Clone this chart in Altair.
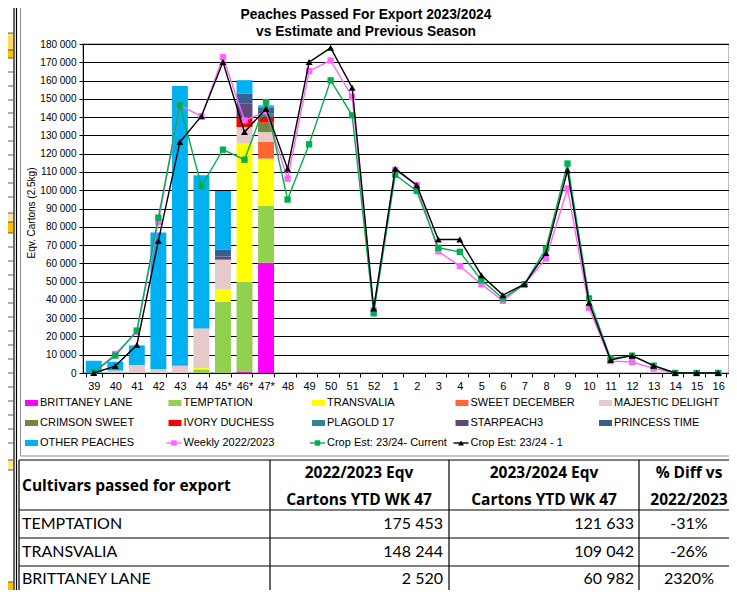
import altair as alt
import pandas as pd

# ---------------- data ----------------
weeks = ["39", "40", "41", "42", "43", "44", "45*", "46*", "47*", "48", "49", "50", "51", "52",
         "1", "2", "3", "4", "5", "6", "7", "8", "9", "10", "11", "12", "13", "14", "15", "16"]

cultivars = ["BRITTANEY LANE", "TEMPTATION", "TRANSVALIA", "SWEET DECEMBER", "MAJESTIC DELIGHT",
             "CRIMSON SWEET", "IVORY DUCHESS", "PLAGOLD 17", "STARPEACH3", "PRINCESS TIME", "OTHER PEACHES"]
cultivar_colors = ["#FF00FF", "#92D050", "#FFFF00", "#FF6633", "#E6C9C9",
                   "#6E8B3D", "#FF0000", "#31849B", "#5F497A", "#376092", "#00B0F0"]

bar_weeks = ["39", "40", "41", "42", "43", "44", "45*", "46*", "47*"]
brittaney_lane   = [0, 0, 0, 0, 0, 0, 0, 800, 60300]
temptation       = [0, 0, 0, 0, 0, 2000, 39000, 49100, 31100]
transvalia       = [0, 0, 0, 0, 0, 700, 7000, 75600, 25900]
sweet_december   = [0, 0, 0, 0, 0, 0, 0, 0, 9100]
majestic_delight = [0, 1300, 4400, 2000, 4000, 21700, 16000, 9100, 5400]
crimson_sweet    = [0, 0, 0, 0, 0, 0, 0, 0, 5200]
ivory_duchess    = [0, 0, 0, 0, 0, 0, 0, 5100, 3000]
plagold_17       = [0, 0, 0, 0, 0, 0, 0, 0, 2000]
starpeach3       = [0, 0, 0, 0, 0, 0, 1700, 7600, 1800]
princess_time    = [0, 0, 0, 0, 0, 0, 3900, 5500, 1500]
other_peaches    = [6700, 4900, 10700, 74900, 153000, 83800, 32000, 7400, 1100]
bar_series = [brittaney_lane, temptation, transvalia, sweet_december, majestic_delight,
              crimson_sweet, ivory_duchess, plagold_17, starpeach3, princess_time, other_peaches]

series_names = ["Weekly 2022/2023", "Crop Est: 23/24- Current", "Crop Est: 23/24 - 1"]
series_colors = ["#FF66FF", "#00B050", "#000000"]
series_shapes = ["square", "square", "triangle-up"]
weekly_2022 = [300, 10400, 22500, 82700, 146400, 140400, 172800, 138200, 143000, 106300, 165100,
               171000, 151000, 34400, 111000, 102800, 66600, 58500, 48600, 39500, 48600, 62700,
               100900, 35700, 6500, 6000, 2500, 0, 0, 0]
crop_est_current = [500, 9500, 23200, 85000, 146500, 102300, 122200, 116700, 148200, 94900, 125100,
                    160100, 141000, 32600, 108500, 99600, 68500, 66300, 50800, 40800, 48600, 68100,
                    114600, 40800, 8000, 9500, 4000, 0, 0, 0]
crop_est_prev = [0, 3800, 15300, 72300, 126400, 140500, 170100, 131800, 144600, 111800, 170100,
                 177900, 156100, 35300, 111800, 102700, 73000, 73000, 53500, 42600, 48600, 65700,
                 110900, 38400, 7100, 9500, 4000, 0, 0, 0]
line_series = [weekly_2022, crop_est_current, crop_est_prev]

title_lines = ["Peaches Passed For Export 2023/2024", "vs Estimate and Previous Season"]
y_title = "Eqv. Cartons (2.5kg)"
y_ticks = list(range(0, 180001, 10000))

table_header = ["Cultivars passed for export", "2022/2023 Eqv", "Cartons YTD WK 47",
                "2023/2024 Eqv", "Cartons YTD WK 47", "% Diff vs", "2022/2023"]
table_cultivars = ["TEMPTATION", "TRANSVALIA", "BRITTANEY LANE"]
table_ytd_prev = ["175 453", "148 244", "2 520"]
table_ytd_curr = ["121 633", "109 042", "60 982"]
table_pct = ["-31%", "-26%", "2320%"]

# ---------------- layout helpers (page px -> view px) ----------------
OX, OY = 83, 44
PW, PH = 646, 329
def vx(X):
    return X - OX
def vy(Y):
    return Y - OY

FONT = "Liberation Sans"
TFONT = "Lato"
HFONT = "Open Sans"

# ---------------- main plot ----------------
bar_rows = []
for ci, (name, vals) in enumerate(zip(cultivars, bar_series)):
    for w, v in zip(bar_weeks, vals):
        bar_rows.append({"week": w, "cultivar": name, "idx": ci, "value": v})
bar_df = pd.DataFrame(bar_rows)

xscale = alt.Scale(type="band", domain=weeks, paddingInner=0.26, paddingOuter=0.13)
yscale = alt.Scale(domain=[0, 180000], nice=False)

xaxis = alt.Axis(title=None, labelFont=FONT, labelFontSize=11, labelColor="#000", labelAngle=0,
                 tickBand="extent", tickSize=4, tickColor="#000", domainColor="#000",
                 labelPadding=3, grid=False)
yaxis = alt.Axis(title=None, values=y_ticks, labelFont=FONT, labelFontSize=10, labelColor="#000",
                 labelExpr="datum.value == 0 ? '0' : floor(datum.value/1000) + ' 000'",
                 tickSize=4, tickColor="#000", domainColor="#000", labelPadding=3,
                 grid=True, gridColor="#000", gridWidth=1)

bars = alt.Chart(bar_df).mark_bar().encode(
    x=alt.X("week:N", sort=weeks, scale=xscale, axis=xaxis),
    y=alt.Y("value:Q", stack="zero", scale=yscale, axis=yaxis),
    color=alt.Color("cultivar:N", scale=alt.Scale(domain=cultivars, range=cultivar_colors), legend=None),
    order=alt.Order("idx:Q", sort="ascending"),
)

line_layers = []
for name, vals, col, shp in zip(series_names, line_series, series_colors, series_shapes):
    df = pd.DataFrame({"week": weeks, "value": vals})
    base = alt.Chart(df).encode(
        x=alt.X("week:N", sort=weeks, scale=xscale, axis=None),
        y=alt.Y("value:Q", scale=yscale, axis=None),
    )
    line_layers.append(base.mark_line(color=col, strokeWidth=1.4))
    line_layers.append(base.mark_point(shape=shp, filled=True, color=col, opacity=1,
                                       size=40 if shp == "square" else 48))

# ---------------- text / decorations ----------------
def txt(df, **kw):
    return alt.Chart(df).mark_text(**kw).encode(
        x=alt.X("x:Q", scale=None, axis=None),
        y=alt.Y("y:Q", scale=None, axis=None),
        text="t:N",
    )

title_df = pd.DataFrame({"t": title_lines, "x": [vx(366)] * 2, "y": [vy(15), vy(31.5)]})
title_layer = txt(title_df, font=FONT, fontSize=13.8, fontWeight="bold", align="center", baseline="middle", color="#000")

ytitle_df = pd.DataFrame({"t": [y_title], "x": [vx(32)], "y": [vy(213)]})
ytitle_layer = txt(ytitle_df, font=FONT, fontSize=10, angle=270, align="center", baseline="middle", color="#000")

# legend
leg_items = cultivars + series_names
leg_rows_y = [403, 423, 443]
leg_rows = []
for i, name in enumerate(leg_items):
    r, c = divmod(i, 5)
    lx = 40 + 143.5 * c
    leg_rows.append({"t": name, "x": vx(lx), "y": vy(leg_rows_y[r]), "i": i})
leg_df = pd.DataFrame(leg_rows)
leg_text = txt(leg_df, font=FONT, fontSize=11, align="left", baseline="middle", color="#000")

sw_df = pd.DataFrame([{"x": d["x"] - 15, "x2": d["x"] - 2, "y": d["y"] - 3, "y2": d["y"] + 3,
                       "cultivar": d["t"]} for d in leg_rows[:11]])
swatches = alt.Chart(sw_df).mark_rect().encode(
    x=alt.X("x:Q", scale=None, axis=None), x2="x2:Q",
    y=alt.Y("y:Q", scale=None, axis=None), y2="y2:Q",
    color=alt.Color("cultivar:N", scale=alt.Scale(domain=cultivars, range=cultivar_colors), legend=None),
)
leg_line_layers = []
for k, (name, col, shp) in enumerate(zip(series_names, series_colors, series_shapes)):
    d = leg_rows[11 + k]
    ldf = pd.DataFrame({"x": [d["x"] - 17], "x2": [d["x"] - 2], "y": [d["y"]], "xm": [d["x"] - 9.5]})
    leg_line_layers.append(alt.Chart(ldf).mark_rule(color=col, strokeWidth=1.4).encode(
        x=alt.X("x:Q", scale=None, axis=None), x2="x2:Q", y=alt.Y("y:Q", scale=None, axis=None)))
    leg_line_layers.append(alt.Chart(ldf).mark_point(shape=shp, filled=True, color=col, opacity=1,
                                                     size=30 if shp == "square" else 35).encode(
        x=alt.X("xm:Q", scale=None, axis=None), y=alt.Y("y:Q", scale=None, axis=None)))

# frame lines (page coordinates)
def seg(x1, y1, x2, y2):
    return {"x": vx(x1), "y": vy(y1), "x2": vx(x2), "y2": vy(y2)}

def box(x1, y1, x2, y2, c):
    return {"x": vx(x1), "y": vy(y1), "x2": vx(x2), "y2": vy(y2), "c": c}

# cut-off neighbouring sheet table at the far left
side_cells = [box(0, 33, 13, 50, "#FFD966"), box(0, 50, 13, 58, "#FFC000"),
              box(0, 213, 13, 222, "#FFE699"), box(0, 222, 13, 233, "#FFC000"),
              box(0, 460, 13, 470, "#FFE699"), box(0, 582, 13, 592, "#FFC000")]
side_df = pd.DataFrame(side_cells)
side_layer = alt.Chart(side_df).mark_rect().encode(
    x=alt.X("x:Q", scale=None, axis=None), x2="x2:Q",
    y=alt.Y("y:Q", scale=None, axis=None), y2="y2:Q",
    color=alt.Color("c:N", scale=None, legend=None),
)
side_lines = [seg(0, y, 13, y) for y in [33, 50, 58, 72, 86, 100, 113, 127, 141, 155, 169, 183, 197,
                                          213, 222, 233, 247, 261, 275, 289, 303, 317, 331, 345,
                                          359, 373, 387, 401, 415, 429, 443, 460, 470, 582, 592]]

TT, TH, R1, R2 = 460, 510, 538, 566
black_lines = [
    seg(14, 0, 14, 600), seg(16.5, 0, 16.5, 600),
    seg(19, TT, 740, TT), seg(19, TH, 740, TH), seg(19, R1, 740, R1), seg(19, R2, 740, R2),
    seg(19, TT, 19, 600), seg(270, TT, 270, 600), seg(449, TT, 449, 600), seg(639, TT, 639, 600),
]
gray_lines = [seg(20.5, 0, 20.5, 456), seg(20.5, 456, 740, 456)]

def rules(rows, color, width):
    return alt.Chart(pd.DataFrame(rows)).mark_rule(color=color, strokeWidth=width).encode(
        x=alt.X("x:Q", scale=None, axis=None), x2="x2:Q",
        y=alt.Y("y:Q", scale=None, axis=None), y2="y2:Q")

frame_side = rules(side_lines, "#333", 0.8)
frame_black = rules(black_lines, "#000", 1.2)
frame_gray = rules(gray_lines, "#8C8C8C", 1)

# table text
hdr_left = txt(pd.DataFrame([{"t": table_header[0], "x": vx(22), "y": vy(486)}]),
               font=HFONT, fontSize=15.5, fontWeight="bold", align="left", baseline="middle", color="#000")
hdr_c = pd.DataFrame([
    {"t": table_header[1], "x": vx(359), "y": vy(473)},
    {"t": table_header[2], "x": vx(359), "y": vy(500)},
    {"t": table_header[3], "x": vx(544), "y": vy(473)},
    {"t": table_header[4], "x": vx(544), "y": vy(500)},
    {"t": table_header[5], "x": vx(689), "y": vy(473)},
    {"t": table_header[6], "x": vx(689), "y": vy(500)},
])
hdr_center = txt(hdr_c, font=HFONT, fontSize=15.5, fontWeight="bold", align="center", baseline="middle", color="#000")

row_y = [524, 552, 579]
names_df = pd.DataFrame({"t": table_cultivars, "x": [vx(22)] * 3, "y": [vy(v) for v in row_y]})
prev_df = pd.DataFrame({"t": table_ytd_prev, "x": [vx(443)] * 3, "y": [vy(v) for v in row_y]})
curr_df = pd.DataFrame({"t": table_ytd_curr, "x": [vx(634)] * 3, "y": [vy(v) for v in row_y]})
pct_df = pd.DataFrame({"t": table_pct, "x": [vx(689)] * 3, "y": [vy(v) for v in row_y]})
tkw = dict(font=TFONT, fontSize=16, baseline="middle", color="#000")
t_names = txt(names_df, align="left", **tkw)
t_prev = txt(prev_df, align="right", **tkw)
t_curr = txt(curr_df, align="right", **tkw)
t_pct = txt(pct_df, align="center", **tkw)

chart = alt.layer(
    bars, *line_layers,
    title_layer, ytitle_layer, leg_text, swatches, *leg_line_layers,
    side_layer, frame_side, frame_gray, frame_black,
    hdr_left, hdr_center, t_names, t_prev, t_curr, t_pct,
).resolve_axis(x="independent", y="independent").properties(
    width=PW, height=PH,
    autosize=alt.AutoSizeParams(type="none"),
    padding={"left": OX - 8, "top": OY - 8, "right": 0, "bottom": 590 - OY - PH},
    background="white",
).configure_view(stroke="#BFBFBF", strokeWidth=2)

chart.save("out.html", embed_options={"renderer": "svg", "actions": False})
